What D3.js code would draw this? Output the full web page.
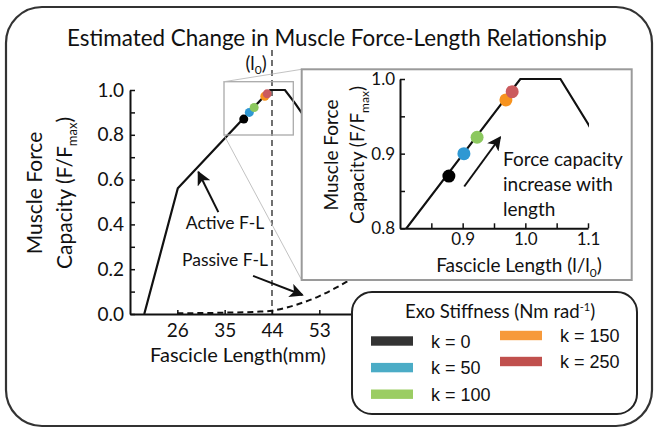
<!DOCTYPE html>
<html><head><meta charset="utf-8">
<script src="https://cdn.jsdelivr.net/npm/d3@7"></script>
<style>body{margin:0;background:#fff}svg{display:block}</style>
</head><body>
<script>
// ---- data ----
const l0 = 44; // optimal fascicle length (mm)
const activeLength = [0.448, 0.593, 0.992, 1.056, 1.1, 1.45]; // l/l0
const activeForce = [0, 0.561, 1.0, 1.0, 0.94, 0.415];        // F/Fmax
const passiveLength = [26, 35, 41, 44, 47, 50, 53, 56, 59, 62]; // mm
const passiveForce = [0.003, 0.006, 0.01, 0.015, 0.03, 0.052, 0.08, 0.115, 0.155, 0.2];
const kLabels = ["k = 0", "k = 50", "k = 100", "k = 150", "k = 250"];
const kDotColors = ["#000000", "#2f98d3", "#8cc85e", "#f7931e", "#cb5b5e"];
const kSwatchColors = ["#333333", "#4bacc6", "#9bcd63", "#f79a3b", "#c0504d"];
const pointLength = [0.878, 0.902, 0.923, 0.969, 0.979]; // l/l0
const pointForce = [0.870, 0.900, 0.922, 0.972, 0.983];
const mainXTicks = [26, 35, 44, 53];
const mainYTicks = [0, 0.1, 0.2, 0.3, 0.4, 0.5, 0.6, 0.7, 0.8, 0.9, 1.0];
const insetXTicks = [0.85, 0.9, 0.95, 1.0, 1.05, 1.1];
const insetYTicks = [0.8, 0.85, 0.9, 0.95, 1.0];

const W = 655, H = 428;
const FONT = "Lato, 'Open Sans', sans-serif";
const ARIAL = "'Liberation Sans', Arial, sans-serif";
const svg = d3.select("body").append("svg").attr("width", W).attr("height", H)
  .style("font-family", FONT);

const defs = svg.append("defs");
defs.append("marker").attr("id", "ahBig").attr("viewBox", "0 0 10 10")
  .attr("refX", 9).attr("refY", 5).attr("markerWidth", 16).attr("markerHeight", 14)
  .attr("markerUnits", "userSpaceOnUse").attr("orient", "auto")
  .append("path").attr("d", "M0,0 L10,5 L0,10 L2.5,5 Z").attr("fill", "#111");

// outer frame
svg.append("rect").attr("x", 6).attr("y", 7).attr("width", 646).attr("height", 419)
  .attr("rx", 36).attr("fill", "none").attr("stroke", "#333").attr("stroke-width", 2.2);

svg.append("text").attr("x", 337).attr("y", 46).attr("text-anchor", "middle")
  .style("font-size", "22.4px").attr("fill", "#111")
  .text("Estimated Change in Muscle Force-Length Relationship");

// ---- main plot ----
const x = d3.scaleLinear().domain([17, 61]).range([130, 361.4]);
const y = d3.scaleLinear().domain([0, 1]).range([314, 90]);
const fmt = d3.format(".1f");

const yAx = svg.append("g").attr("transform", "translate(130,0)")
  .call(d3.axisLeft(y).tickValues(mainYTicks).tickSize(-5).tickSizeOuter(0).tickPadding(6)
    .tickFormat(d => Math.round(d * 10) % 2 === 0 ? fmt(d) : ""));
const xAx = svg.append("g").attr("transform", "translate(0,314)")
  .call(d3.axisBottom(x).tickValues(mainXTicks).tickSize(-4).tickSizeOuter(0).tickPadding(10));
[yAx, xAx].forEach(g => {
  g.select(".domain").attr("stroke", "#111").attr("stroke-width", 2);
  g.selectAll(".tick line").attr("stroke", "#111").attr("stroke-width", 1.5);
  g.selectAll(".tick text").attr("fill", "#111").style("font-size", "19px").style("font-family", FONT);
});

// y label
const yl = svg.append("text").attr("transform", "translate(42,193) rotate(-90)")
  .attr("text-anchor", "middle").style("font-size", "21px").attr("fill", "#111");
yl.append("tspan").attr("x", 0).attr("y", 0).text("Muscle Force");
yl.append("tspan").attr("x", 0).attr("y", 30).text("Capacity (F/F");
yl.append("tspan").style("font-size", "13px").attr("dy", 5).text("max");
yl.append("tspan").attr("dy", -5).text(")");

svg.append("text").attr("x", 238).attr("y", 362).attr("text-anchor", "middle")
  .style("font-size", "20px").attr("fill", "#111").text("Fascicle Length(mm)");

// l0 dashed line
svg.append("line").attr("x1", x(l0)).attr("x2", x(l0)).attr("y1", 50).attr("y2", 314)
  .attr("stroke", "#111").attr("stroke-width", 1.2).attr("stroke-dasharray", "6,4");
const l0t = svg.append("text").attr("x", 256).attr("y", 70).attr("text-anchor", "middle")
  .style("font-size", "18.5px").attr("fill", "#111");
l0t.append("tspan").text("(l");
l0t.append("tspan").style("font-size", "12px").attr("dy", 4).text("0");
l0t.append("tspan").attr("dy", -4).text(")");

// passive curve
svg.append("path").datum(passiveLength.map((d, i) => [d, passiveForce[i]]))
  .attr("d", d3.line().x(d => x(d[0])).y(d => y(d[1])).curve(d3.curveMonotoneX))
  .attr("fill", "none").attr("stroke", "#111").attr("stroke-width", 2).attr("stroke-dasharray", "6,4");

// active curve
svg.append("path").datum(activeLength.map((d, i) => [d * l0, activeForce[i]]))
  .attr("d", d3.line().x(d => x(d[0])).y(d => y(d[1])))
  .attr("fill", "none").attr("stroke", "#111").attr("stroke-width", 2.2);

// dots main
svg.append("g").selectAll("circle").data(pointLength).join("circle")
  .attr("cx", d => x(d * l0)).attr("cy", (d, i) => y(pointForce[i])).attr("r", 4.5)
  .attr("fill", (d, i) => kDotColors[i]);

// zoom box on main
const zx0 = 224, zy0 = 81.7, zx1 = 293.3, zy1 = 135;
svg.append("rect").attr("x", zx0).attr("y", zy0).attr("width", zx1 - zx0).attr("height", zy1 - zy0)
  .attr("fill", "none").attr("stroke", "#aaa").attr("stroke-width", 1.3);

// annotations main
svg.append("line").attr("x1", x(33.8)).attr("y1", y(0.455)).attr("x2", x(30.0)).attr("y2", y(0.634))
  .attr("stroke", "#111").attr("stroke-width", 2).attr("marker-end", "url(#ahBig)");
svg.append("text").attr("x", 225).attr("y", 229).attr("text-anchor", "middle")
  .style("font-size", "17.5px").attr("fill", "#111").text("Active F-L");
svg.append("text").attr("x", 225).attr("y", 266).attr("text-anchor", "middle")
  .style("font-size", "17.5px").attr("fill", "#111").text("Passive F-L");
svg.append("line").attr("x1", x(40.4)).attr("y1", y(0.17)).attr("x2", x(49.8)).attr("y2", y(0.085))
  .attr("stroke", "#111").attr("stroke-width", 2).attr("marker-end", "url(#ahBig)");

// ---- inset ----
const ib = {x: 301.7, y: 69.3, w: 330, h: 210.7};
svg.append("line").attr("x1", zx0).attr("y1", zy0).attr("x2", ib.x).attr("y2", ib.y)
  .attr("stroke", "#bbb").attr("stroke-width", 0.9);
svg.append("line").attr("x1", zx0).attr("y1", zy1).attr("x2", ib.x).attr("y2", ib.y + ib.h)
  .attr("stroke", "#bbb").attr("stroke-width", 0.9);
svg.append("rect").attr("x", ib.x).attr("y", ib.y).attr("width", ib.w).attr("height", ib.h)
  .attr("fill", "#fff").attr("stroke", "#9a9a9a").attr("stroke-width", 2);

const xi = d3.scaleLinear().domain([0.8, 1.1]).range([400, 588]);
const yi = d3.scaleLinear().domain([0.8, 1.0]).range([228.3, 79]);
defs.append("clipPath").attr("id", "insetClip").append("rect")
  .attr("x", xi(0.8)).attr("y", yi(1.0) - 6).attr("width", xi(1.1) - xi(0.8) + 1).attr("height", yi(0.8) - yi(1.0) + 6);

const yAxI = svg.append("g").attr("transform", `translate(${xi(0.8)},0)`)
  .call(d3.axisLeft(yi).tickValues(insetYTicks).tickSize(-5).tickSizeOuter(0).tickPadding(5)
    .tickFormat(d => Math.round(d * 100) % 10 === 0 ? fmt(d) : ""));
const xAxI = svg.append("g").attr("transform", `translate(0,${yi(0.8)})`)
  .call(d3.axisBottom(xi).tickValues(insetXTicks).tickSize(-5).tickSizeOuter(0).tickPadding(5)
    .tickFormat(d => Math.round(d * 100) % 10 === 0 ? fmt(d) : ""));
[yAxI, xAxI].forEach(g => {
  g.select(".domain").attr("stroke", "#111").attr("stroke-width", 2);
  g.selectAll(".tick line").attr("stroke", "#111").attr("stroke-width", 1.5);
  g.selectAll(".tick text").attr("fill", "#111").style("font-size", "17px").style("font-family", FONT);
});

svg.append("path").datum(activeLength.map((d, i) => [d, activeForce[i]]))
  .attr("clip-path", "url(#insetClip)")
  .attr("d", d3.line().x(d => xi(d[0])).y(d => yi(d[1])))
  .attr("fill", "none").attr("stroke", "#111").attr("stroke-width", 2.2);
svg.append("g").selectAll("circle").data(pointLength).join("circle")
  .attr("cx", d => xi(d)).attr("cy", (d, i) => yi(pointForce[i])).attr("r", 6.5)
  .attr("fill", (d, i) => kDotColors[i]);

const yli = svg.append("text").attr("transform", "translate(338,155) rotate(-90)")
  .attr("text-anchor", "middle").style("font-size", "19px").attr("fill", "#111");
yli.append("tspan").attr("x", 0).attr("y", 0).text("Muscle Force");
yli.append("tspan").attr("x", 0).attr("y", 26).text("Capacity (F/F");
yli.append("tspan").style("font-size", "12px").attr("dy", 5).text("max");
yli.append("tspan").attr("dy", -5).text(")");

const xli = svg.append("text").attr("x", 519).attr("y", 272).attr("text-anchor", "middle")
  .style("font-size", "19px").attr("fill", "#111");
xli.append("tspan").text("Fascicle Length (l/l");
xli.append("tspan").style("font-size", "12px").attr("dy", 5).text("0");
xli.append("tspan").attr("dy", -5).text(")");

svg.append("line").attr("x1", xi(0.9025)).attr("y1", yi(0.856)).attr("x2", xi(0.96)).attr("y2", yi(0.922))
  .attr("stroke", "#111").attr("stroke-width", 2).attr("marker-end", "url(#ahBig)");
const ann = svg.append("text").style("font-size", "19px").attr("fill", "#111");
["Force capacity", "increase with", "length"].forEach((t, i) =>
  ann.append("tspan").attr("x", 503).attr("y", 166 + i * 25).text(t));

// ---- legend ----
svg.append("rect").attr("x", 352).attr("y", 292).attr("width", 285).attr("height", 122)
  .attr("rx", 20).attr("fill", "#fff").attr("stroke", "#222").attr("stroke-width", 2);
const lt = svg.append("text").attr("x", 500).attr("y", 318).attr("text-anchor", "middle")
  .style("font-size", "18.6px").attr("fill", "#111");
lt.append("tspan").text("Exo Stiffness (Nm rad");
lt.append("tspan").style("font-size", "11px").attr("dy", -7).text("-1");
lt.append("tspan").attr("dy", 7).text(")");

const lg = svg.append("g");
kLabels.forEach((lab, i) => {
  const col = i < 3 ? 0 : 1, row = i < 3 ? i : i - 3;
  const cy = col === 0 ? 341 + row * 26.6 : 335.5 + row * 26;
  const sx = col === 0 ? 371 : 500;
  lg.append("rect").attr("x", sx).attr("y", cy - 4.7).attr("width", 42).attr("height", 9.4)
    .attr("fill", kSwatchColors[i]);
  lg.append("text").attr("x", sx + 60).attr("y", cy + 6.5).style("font-size", "18px")
    .style("font-family", ARIAL).attr("fill", "#111").text(lab);
});
</script>
</body></html>
